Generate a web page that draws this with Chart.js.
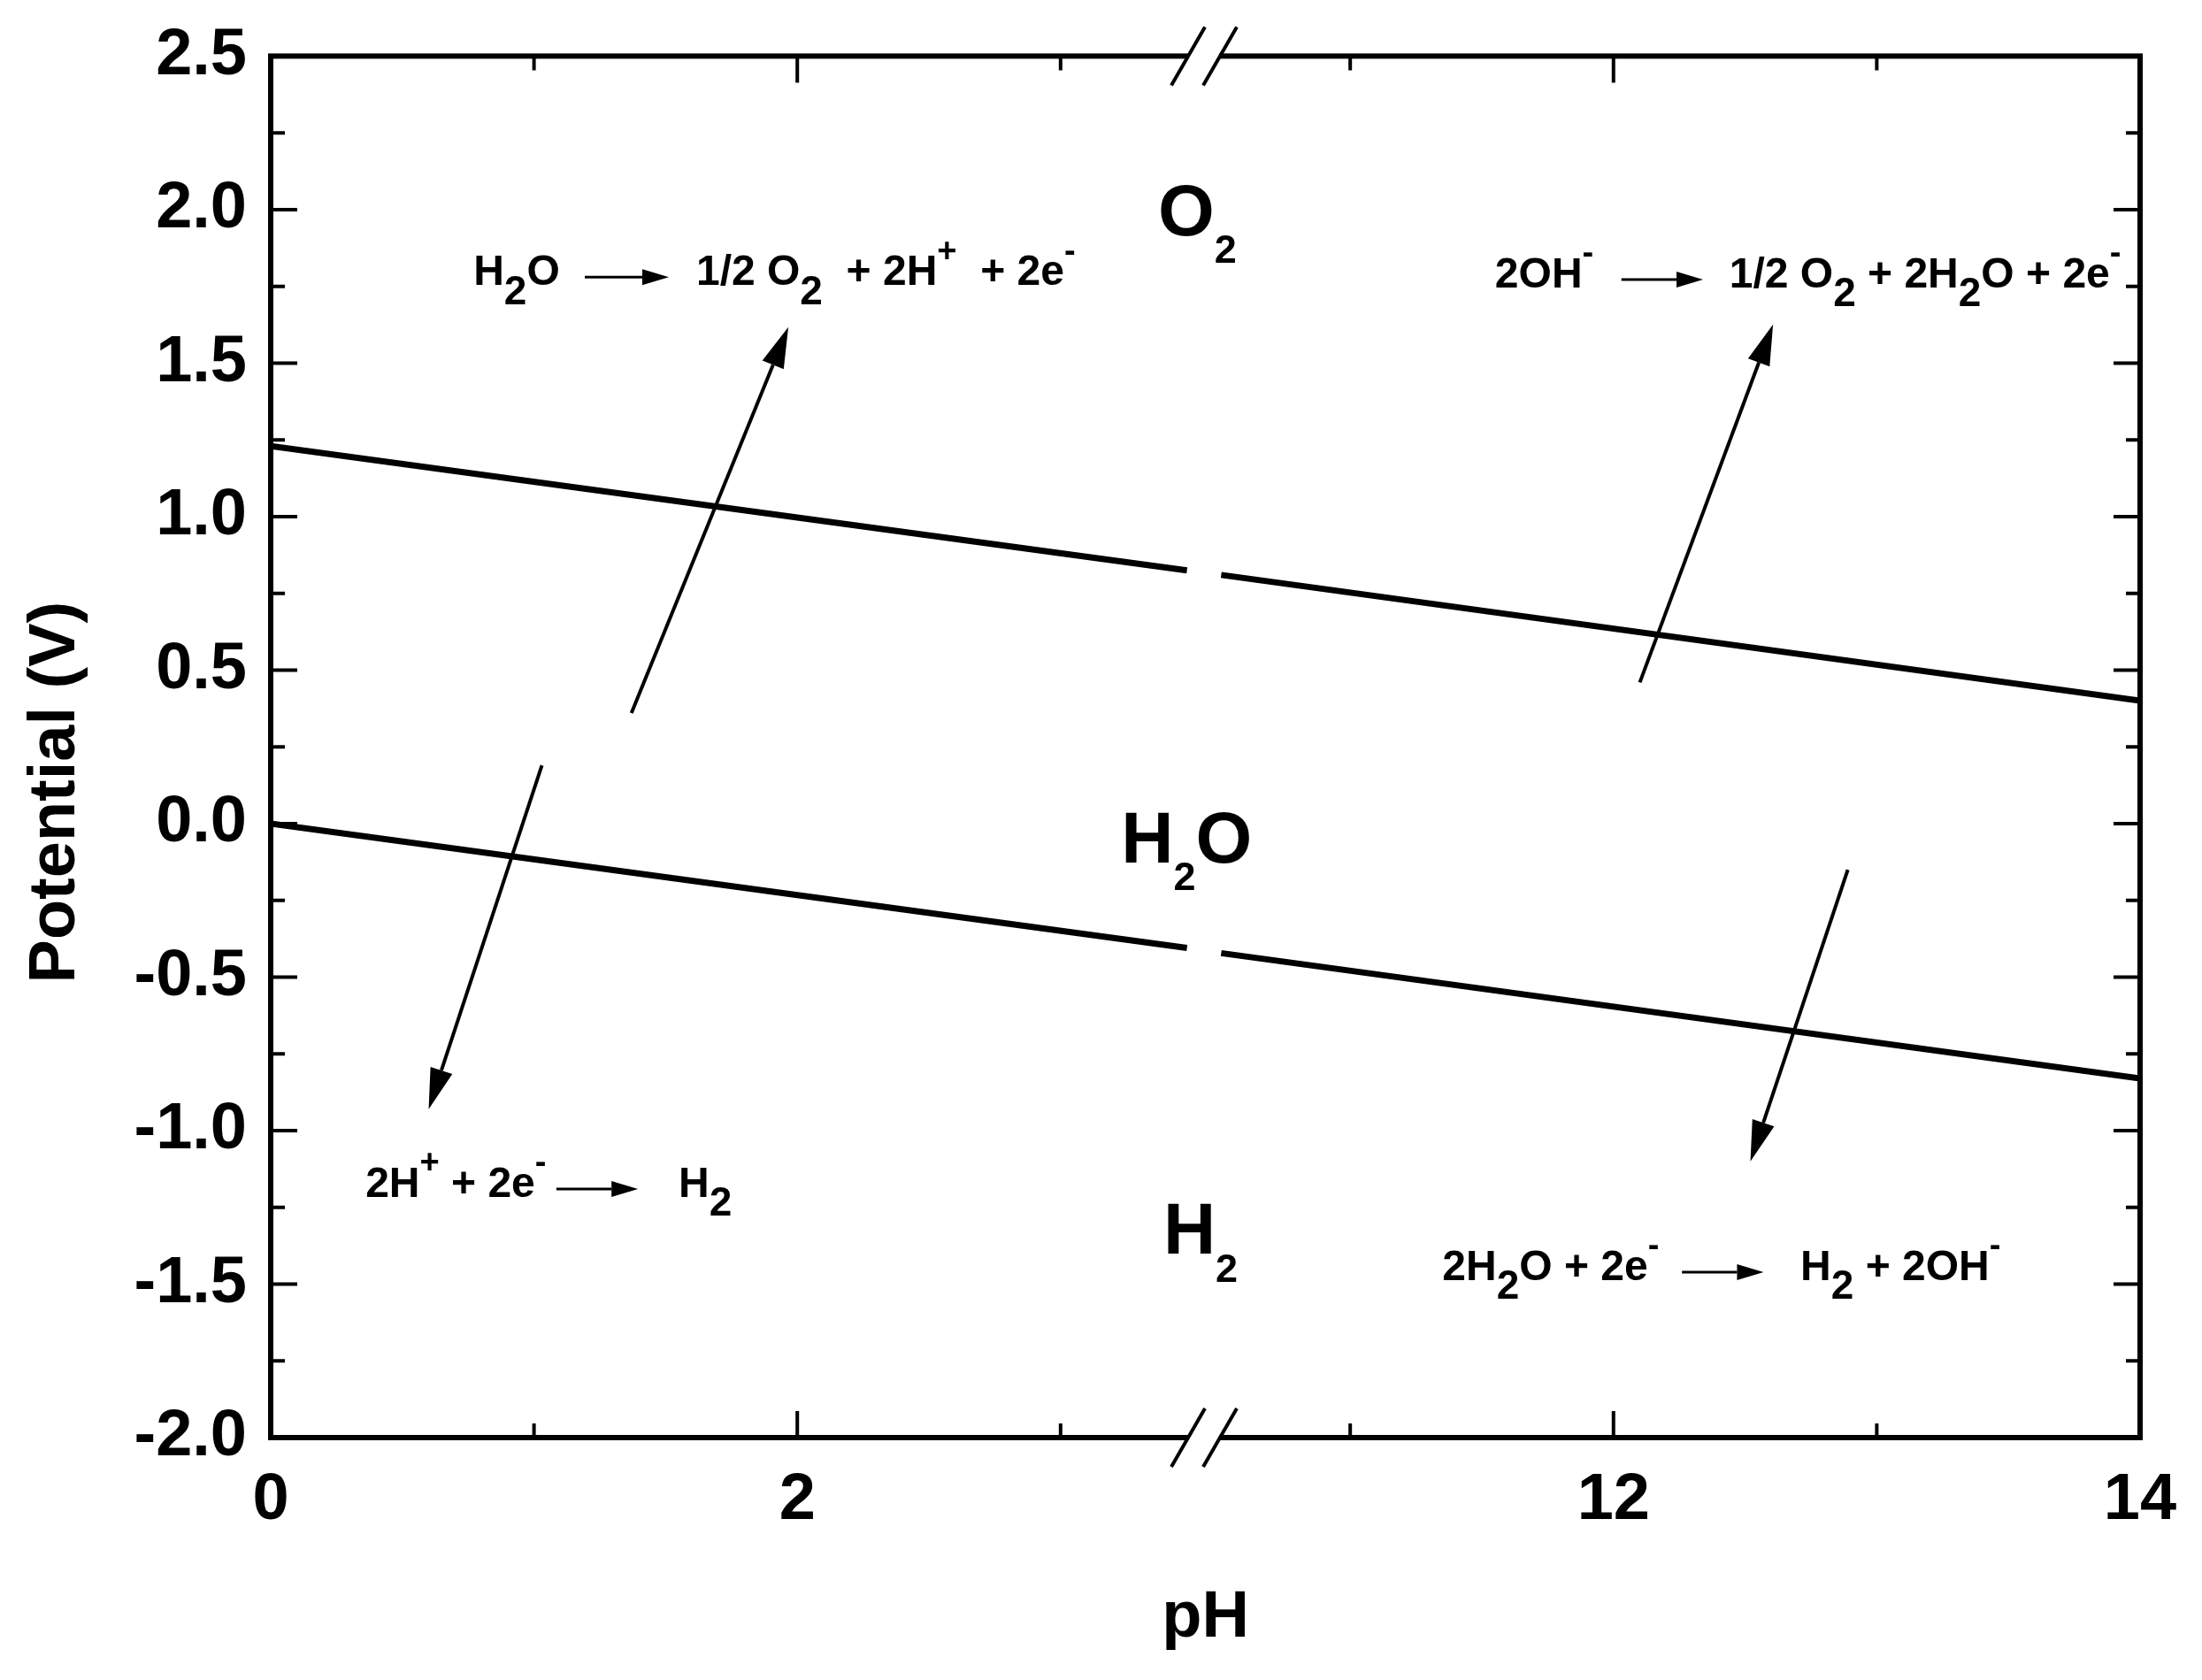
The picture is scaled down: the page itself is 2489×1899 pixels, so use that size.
<!DOCTYPE html>
<html>
<head>
<meta charset="utf-8">
<script src="https://cdn.jsdelivr.net/npm/chart.js@4.4.1/dist/chart.umd.min.js"></script>
<style>
html, body { margin: 0; padding: 0; background: #fff; }
</style>
</head>
<body>
<canvas id="chart" width="2489" height="1899"></canvas>
<script>
// pH axis is broken: 0..3.5 then 10.4..14 shown next to each other
var breakFrom = 3.5, breakShift = 6.9;
function axisX(ph) { return ph <= breakFrom ? ph : ph - breakShift; }
function axisPH(u) { return u <= breakFrom ? u : u + breakShift; }

var majorPH = [0, 2, 12, 14];
var minorPH = [1, 3, 11, 13];
var potentialTicks = [-2.0, -1.5, -1.0, -0.5, 0.0, 0.5, 1.0, 1.5, 2.0, 2.5];

// the two stability lines (null = axis break)
var linePH = [0, 3.48, 3.5, 10.51, 14];
var o2LineV = [1.23, 0.825, null, 0.81, 0.40];
var h2LineV = [0.00, -0.405, null, -0.422, -0.83];

// long arrows: [pH tail, V tail, pH head, V head]
var arrows = [
  [1.37, 0.36, 1.966, 1.617],
  [1.03, 0.19, 0.60, -0.93],
  [12.10, 0.46, 12.606, 1.626],
  [12.89, -0.15, 12.52, -1.10]
];

// region labels
var regions = [
  { text: 'O_2', ph: 3.37, v: 1.917 },
  { text: 'H_2O', ph: 3.23, v: -0.126 },
  { text: 'H_2', ph: 3.39, v: -1.402 }
];

// half reactions: left side, arrow, right side
var reactions = [
  { left: 'H_2O', right: '1/2 O_2  + 2H^+  + 2e^-', v: 1.755, leftPH: 0.77, arrowPH: [1.193, 1.512], rightPH: 1.616 },
  { left: '2OH^-', right: '1/2 O_2 + 2H_2O + 2e^-', v: 1.747, leftPH: 11.55, arrowPH: [12.03, 12.34], rightPH: 12.44 },
  { left: '2H^+ + 2e^-', right: 'H_2', v: -1.215, leftPH: 0.36, arrowPH: [1.085, 1.395], rightPH: 1.549 },
  { left: '2H_2O + 2e^-', right: 'H_2 + 2OH^-', v: -1.486, leftPH: 11.35, arrowPH: [12.26, 12.57], rightPH: 12.71 }
];

var FONT = '"Liberation Sans", Arial, Helvetica, sans-serif';

function drawRich(ctx, str, x, y, size, subScale, subDrop, supScale, supRise) {
  var i = 0;
  ctx.textBaseline = 'alphabetic';
  ctx.textAlign = 'left';
  while (i < str.length) {
    var ch = str[i];
    if ((ch === '_' || ch === '^') && i + 1 < str.length) {
      var c = str[i + 1];
      var sc = ch === '_' ? subScale : supScale;
      var dy = ch === '_' ? subDrop * size : -supRise * size;
      ctx.font = 'bold ' + Math.round(size * sc) + 'px ' + FONT;
      ctx.fillText(c, x, y + dy);
      x += ctx.measureText(c).width;
      i += 2;
    } else {
      ctx.font = 'bold ' + size + 'px ' + FONT;
      ctx.fillText(ch, x, y);
      x += ctx.measureText(ch).width;
      i += 1;
    }
  }
  return x;
}

function drawArrow(ctx, x1, y1, x2, y2, lw, headLen, headHalf) {
  var ang = Math.atan2(y2 - y1, x2 - x1);
  var bx = x2 - headLen * Math.cos(ang), by = y2 - headLen * Math.sin(ang);
  ctx.lineWidth = lw;
  ctx.beginPath();
  ctx.moveTo(x1, y1);
  ctx.lineTo(bx, by);
  ctx.stroke();
  ctx.beginPath();
  ctx.moveTo(x2, y2);
  ctx.lineTo(bx + headHalf * Math.sin(ang), by - headHalf * Math.cos(ang));
  ctx.lineTo(bx - headHalf * Math.sin(ang), by + headHalf * Math.cos(ang));
  ctx.closePath();
  ctx.fill();
}

var decorations = {
  id: 'decorations',
  afterDatasetsDraw: function(chart) {
    var ctx = chart.ctx, a = chart.chartArea;
    var xs = chart.scales.x, ys = chart.scales.y;
    ctx.save();
    ctx.strokeStyle = '#000';
    ctx.fillStyle = '#000';
    ctx.lineCap = 'butt';

    // frame
    ctx.lineWidth = 6;
    ctx.strokeRect(a.left, a.top, a.right - a.left, a.bottom - a.top);

    // inward ticks on all four sides
    ctx.lineWidth = 4;
    function vtick(ph, len) {
      var px = xs.getPixelForValue(axisX(ph));
      ctx.beginPath();
      ctx.moveTo(px, a.bottom); ctx.lineTo(px, a.bottom - len);
      ctx.moveTo(px, a.top); ctx.lineTo(px, a.top + len);
      ctx.stroke();
    }
    function htick(v, len) {
      var py = ys.getPixelForValue(v);
      ctx.beginPath();
      ctx.moveTo(a.left, py); ctx.lineTo(a.left + len, py);
      ctx.moveTo(a.right, py); ctx.lineTo(a.right - len, py);
      ctx.stroke();
    }
    majorPH.forEach(function(p) { vtick(p, 30); });
    minorPH.forEach(function(p) { vtick(p, 16); });
    potentialTicks.forEach(function(v, i) {
      htick(v, 30);
      if (i < potentialTicks.length - 1) htick(v + 0.25, 16);
    });

    // axis break marks
    var xb = xs.getPixelForValue((axisX(linePH[1]) + axisX(linePH[3])) / 2);
    [a.top, a.bottom].forEach(function(yy) {
      ctx.fillStyle = '#fff';
      ctx.fillRect(xb - 17, yy - 5, 34, 10);
      ctx.fillStyle = '#000';
      ctx.lineWidth = 4;
      [-18, 18].forEach(function(o) {
        ctx.beginPath();
        ctx.moveTo(xb + o - 19, yy + 33);
        ctx.lineTo(xb + o + 19, yy - 33);
        ctx.stroke();
      });
    });

    // long arrows
    arrows.forEach(function(r) {
      drawArrow(ctx,
        xs.getPixelForValue(axisX(r[0])), ys.getPixelForValue(r[1]),
        xs.getPixelForValue(axisX(r[2])), ys.getPixelForValue(r[3]),
        4, 46, 13);
    });

    // region labels
    regions.forEach(function(r) {
      drawRich(ctx, r.text, xs.getPixelForValue(axisX(r.ph)), ys.getPixelForValue(r.v),
        82, 0.55, 0.38, 0.55, 0.5);
    });

    // half reactions
    var fs = 48;
    reactions.forEach(function(r) {
      var y = ys.getPixelForValue(r.v);
      drawRich(ctx, r.left, xs.getPixelForValue(axisX(r.leftPH)), y, fs, 0.95, 0.45, 0.8, 0.55);
      var ay = y - 0.18 * fs;
      drawArrow(ctx,
        xs.getPixelForValue(axisX(r.arrowPH[0])), ay,
        xs.getPixelForValue(axisX(r.arrowPH[1])), ay,
        3, 30, 9);
      drawRich(ctx, r.right, xs.getPixelForValue(axisX(r.rightPH)), y, fs, 0.95, 0.45, 0.8, 0.55);
    });
    ctx.restore();
  }
};

function toPoints(vals) {
  return linePH.map(function(p, i) { return { x: axisX(p), y: vals[i] }; });
}

var tickFont = { family: FONT, size: 74, weight: 'bold' };

new Chart(document.getElementById('chart'), {
  type: 'line',
  data: {
    datasets: [
      { label: 'O2/H2O', data: toPoints(o2LineV), borderColor: '#000', borderWidth: 7, pointRadius: 0, spanGaps: false, tension: 0 },
      { label: 'H2O/H2', data: toPoints(h2LineV), borderColor: '#000', borderWidth: 7, pointRadius: 0, spanGaps: false, tension: 0 }
    ]
  },
  options: {
    responsive: false,
    animation: false,
    devicePixelRatio: 1,
    layout: { padding: { top: 55, right: 70, left: 0, bottom: 0 } },
    plugins: { legend: { display: false }, tooltip: { enabled: false } },
    scales: {
      x: {
        type: 'linear',
        min: 0,
        max: axisX(14),
        grid: { display: false },
        border: { display: false },
        afterBuildTicks: function(s) {
          s.ticks = majorPH.map(function(p) { return { value: axisX(p) }; });
        },
        afterFit: function(s) { s.height = 274; },
        ticks: {
          color: '#000',
          font: tickFont,
          padding: 19,
          maxRotation: 0,
          autoSkip: false,
          callback: function(v) { return String(Math.round(axisPH(v))); }
        },
        title: { display: true, text: 'pH', color: '#000', font: tickFont, padding: { top: 0, bottom: 25 } }
      },
      y: {
        type: 'linear',
        min: -2.0,
        max: 2.5,
        grid: { display: false },
        border: { display: false },
        afterBuildTicks: function(s) {
          s.ticks = potentialTicks.map(function(v) { return { value: v }; });
        },
        afterFit: function(s) { s.width = 306; },
        ticks: {
          color: '#000',
          font: tickFont,
          padding: 19,
          callback: function(v) { return v.toFixed(1); }
        },
        title: { display: true, text: 'Potential (V)     ', color: '#000', font: tickFont, padding: { top: 19, bottom: 0 } }
      }
    }
  },
  plugins: [decorations]
});
</script>
</body>
</html>
